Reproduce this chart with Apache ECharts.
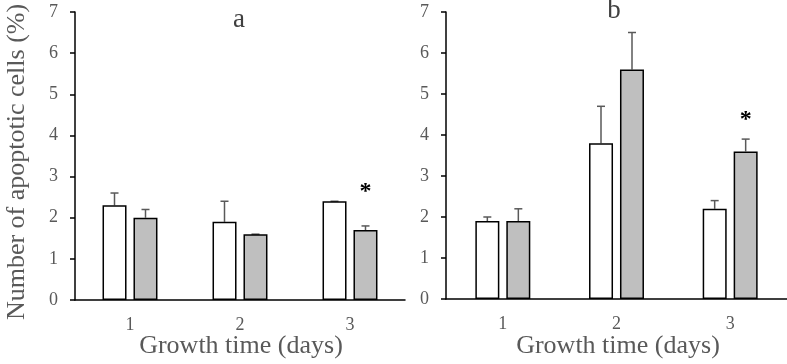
<!DOCTYPE html>
<html>
<head>
<meta charset="utf-8">
<script src="https://cdn.jsdelivr.net/npm/echarts@6/dist/echarts.min.js"></script>
<style>
html,body{margin:0;padding:0;background:#fff;}
#main{width:787px;height:364px;}
</style>
</head>
<body>
<div id="main"></div>
<script>
var days = ['1', '2', '3'];
// panel a
var whiteA = [2.3, 1.9, 2.4];
var whiteErrA = [0.3, 0.5, 0.0];
var grayA = [2.0, 1.6, 1.7];
var grayErrA = [0.2, 0.0, 0.1];
var starA = [null, null, 2.62];
// panel b
var whiteB = [1.9, 3.8, 2.2];
var whiteErrB = [0.1, 0.9, 0.2];
var grayB = [1.9, 5.6, 3.6];
var grayErrB = [0.3, 0.9, 0.3];
var starB = [null, null, 4.36];

var font = '"Liberation Serif", "Times New Roman", serif';
var textGray = '#595959';
var barW = 24, barGap = 7;

function errSeries(idx, vals, errs, offset) {
	return {
		type: 'custom',
		xAxisIndex: idx, yAxisIndex: idx,
		z: 1,
		data: days.map(function (d, i) { return [i, vals[i], errs[i]]; }),
		renderItem: function (params, api) {
			var top = api.coord([api.value(0), api.value(1) + api.value(2)]);
			var base = api.coord([api.value(0), api.value(1)]);
			var x = top[0] + offset;
			var st = { stroke: textGray, lineWidth: 1.5 };
			return {
				type: 'group',
				children: [
					{ type: 'line', shape: { x1: x, y1: base[1], x2: x, y2: top[1] }, style: st },
					{ type: 'line', shape: { x1: x - 4, y1: top[1], x2: x + 4, y2: top[1] }, style: st }
				]
			};
		}
	};
}

function starSeries(idx, stars, offset) {
	var d = [];
	stars.forEach(function (v, i) { if (v != null) d.push([i, v]); });
	return {
		type: 'custom',
		xAxisIndex: idx, yAxisIndex: idx,
		data: d,
		renderItem: function (params, api) {
			var p = api.coord([api.value(0), api.value(1)]);
			return {
				type: 'text',
				style: {
					x: p[0] + offset, y: p[1], text: '*',
					font: 'bold 24px ' + font, fill: '#000',
					align: 'center', verticalAlign: 'middle'
				}
			};
		}
	};
}

function barSeries(idx, vals, color) {
	return {
		type: 'bar',
		xAxisIndex: idx, yAxisIndex: idx,
		data: vals,
		barWidth: barW,
		barGap: (barGap / barW * 100).toFixed(0) + '%',
		z: 2,
		itemStyle: { color: color, borderColor: '#000', borderWidth: 1.5 }
	};
}

function nameText(x, y, rot, txt) {
	return {
		type: 'text', x: x, y: y, rotation: rot,
		style: {
			text: txt, font: '26px ' + font, fill: textGray,
			align: 'center', verticalAlign: 'middle'
		}
	};
}

var off = (barW + barGap) / 2;

var option = {
	animation: false,
	title: [
		{ text: 'a', left: 234, top: 1, textAlign: 'center',
		  textStyle: { fontFamily: font, fontSize: 27, fontWeight: 'normal', color: '#404040' } },
		{ text: 'b', left: 609, top: -8, textAlign: 'center',
		  textStyle: { fontFamily: font, fontSize: 27, fontWeight: 'normal', color: '#404040' } }
	],
	graphic: [
		nameText(17, 162, Math.PI / 2, 'Number of apoptotic cells (%)'),
		nameText(241, 346, 0, 'Growth time (days)'),
		nameText(618, 346, 0, 'Growth time (days)')
	],
	grid: [
		{ left: 75, top: 12, width: 330, height: 288, outerBoundsMode: 'none' },
		{ left: 446, top: 12, width: 341, height: 287, outerBoundsMode: 'none' }
	],
	xAxis: [0, 1].map(function (i) {
		return {
			type: 'category', gridIndex: i, data: days,
			axisLine: { lineStyle: { color: '#000', width: 1.5 } },
			axisTick: { show: false },
			axisLabel: { fontFamily: font, fontSize: 18, color: textGray, margin: 16 }
		};
	}),
	yAxis: [0, 1].map(function (i) {
		return {
			type: 'value', gridIndex: i, min: 0, max: 7, interval: 1,
			axisLine: { show: true, lineStyle: { color: '#000', width: 1.5 } },
			axisTick: { show: true, length: 5, lineStyle: { color: '#000', width: 1.5 } },
			axisLabel: { fontFamily: font, fontSize: 18, color: textGray, margin: 17 },
			splitLine: { show: false }
		};
	}),
	series: [
		barSeries(0, whiteA, '#ffffff'),
		barSeries(0, grayA, '#bfbfbf'),
		errSeries(0, whiteA, whiteErrA, -off),
		errSeries(0, grayA, grayErrA, off),
		starSeries(0, starA, off),
		barSeries(1, whiteB, '#ffffff'),
		barSeries(1, grayB, '#bfbfbf'),
		errSeries(1, whiteB, whiteErrB, -off),
		errSeries(1, grayB, grayErrB, off),
		starSeries(1, starB, off)
	]
};

var myChart = echarts.init(document.getElementById('main'));
myChart.setOption(option);
</script>
</body>
</html>
